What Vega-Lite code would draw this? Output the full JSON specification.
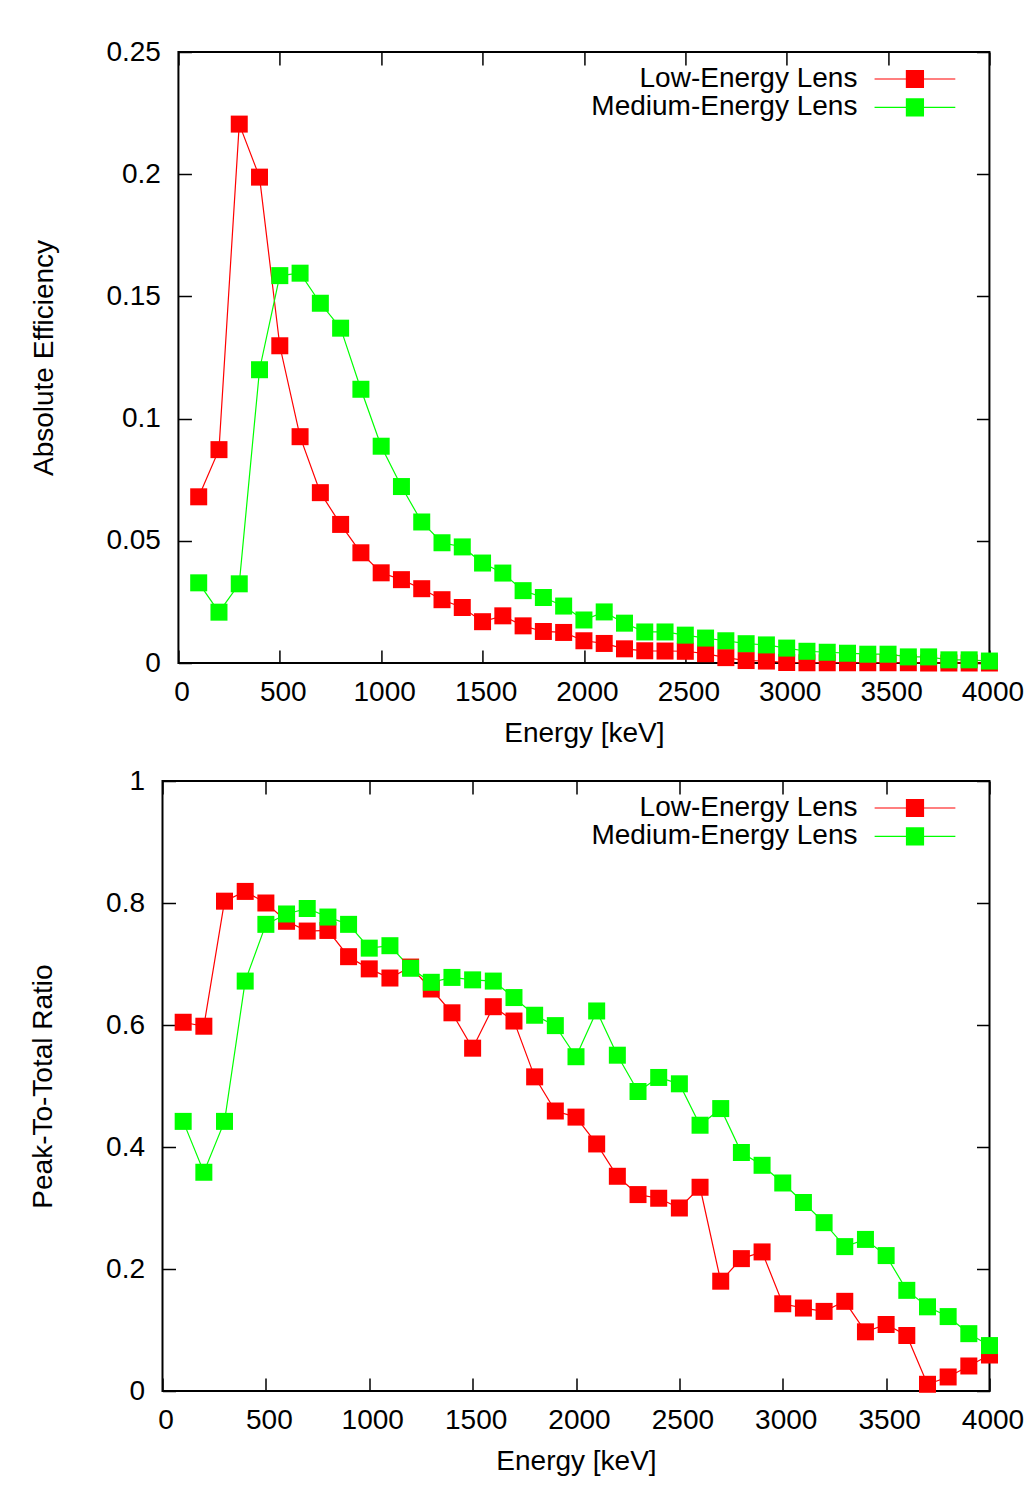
{
  "$schema": "https://vega.github.io/schema/vega-lite/v6.json",
  "background": "white",
  "padding": {"left": 28.5, "top": 37, "right": 0, "bottom": 0},
  "autosize": {"type": "pad"},
  "datasets": {
    "lenses": [
      {"lens": "Low-Energy Lens", "energy": 100, "eff": 0.068, "ptt": 0.6045},
      {"lens": "Low-Energy Lens", "energy": 200, "eff": 0.0873, "ptt": 0.598},
      {"lens": "Low-Energy Lens", "energy": 300, "eff": 0.2205, "ptt": 0.803},
      {"lens": "Low-Energy Lens", "energy": 400, "eff": 0.1988, "ptt": 0.819},
      {"lens": "Low-Energy Lens", "energy": 500, "eff": 0.1298, "ptt": 0.8},
      {"lens": "Low-Energy Lens", "energy": 600, "eff": 0.0926, "ptt": 0.77},
      {"lens": "Low-Energy Lens", "energy": 700, "eff": 0.0697, "ptt": 0.754},
      {"lens": "Low-Energy Lens", "energy": 800, "eff": 0.0567, "ptt": 0.755},
      {"lens": "Low-Energy Lens", "energy": 900, "eff": 0.0451, "ptt": 0.712},
      {"lens": "Low-Energy Lens", "energy": 1000, "eff": 0.0369, "ptt": 0.692},
      {"lens": "Low-Energy Lens", "energy": 1100, "eff": 0.0341, "ptt": 0.677},
      {"lens": "Low-Energy Lens", "energy": 1200, "eff": 0.0304, "ptt": 0.695},
      {"lens": "Low-Energy Lens", "energy": 1300, "eff": 0.0259, "ptt": 0.659},
      {"lens": "Low-Energy Lens", "energy": 1400, "eff": 0.0227, "ptt": 0.62},
      {"lens": "Low-Energy Lens", "energy": 1500, "eff": 0.0169, "ptt": 0.562},
      {"lens": "Low-Energy Lens", "energy": 1600, "eff": 0.0193, "ptt": 0.63},
      {"lens": "Low-Energy Lens", "energy": 1700, "eff": 0.0152, "ptt": 0.6065},
      {"lens": "Low-Energy Lens", "energy": 1800, "eff": 0.0129, "ptt": 0.515},
      {"lens": "Low-Energy Lens", "energy": 1900, "eff": 0.0125, "ptt": 0.459},
      {"lens": "Low-Energy Lens", "energy": 2000, "eff": 0.0091, "ptt": 0.449},
      {"lens": "Low-Energy Lens", "energy": 2100, "eff": 0.008, "ptt": 0.405},
      {"lens": "Low-Energy Lens", "energy": 2200, "eff": 0.0058, "ptt": 0.352},
      {"lens": "Low-Energy Lens", "energy": 2300, "eff": 0.005, "ptt": 0.322},
      {"lens": "Low-Energy Lens", "energy": 2400, "eff": 0.0049, "ptt": 0.316},
      {"lens": "Low-Energy Lens", "energy": 2500, "eff": 0.0048, "ptt": 0.3},
      {"lens": "Low-Energy Lens", "energy": 2600, "eff": 0.0038, "ptt": 0.334},
      {"lens": "Low-Energy Lens", "energy": 2700, "eff": 0.0022, "ptt": 0.18},
      {"lens": "Low-Energy Lens", "energy": 2800, "eff": 0.001, "ptt": 0.217},
      {"lens": "Low-Energy Lens", "energy": 2900, "eff": 0.0008, "ptt": 0.228},
      {"lens": "Low-Energy Lens", "energy": 3000, "eff": 0.0002, "ptt": 0.143},
      {"lens": "Low-Energy Lens", "energy": 3100, "eff": 0.0001, "ptt": 0.136},
      {"lens": "Low-Energy Lens", "energy": 3200, "eff": 0.0001, "ptt": 0.1305},
      {"lens": "Low-Energy Lens", "energy": 3300, "eff": 0.0001, "ptt": 0.147},
      {"lens": "Low-Energy Lens", "energy": 3400, "eff": 0.0001, "ptt": 0.097},
      {"lens": "Low-Energy Lens", "energy": 3500, "eff": 0.0001, "ptt": 0.109},
      {"lens": "Low-Energy Lens", "energy": 3600, "eff": 0.0001, "ptt": 0.091},
      {"lens": "Low-Energy Lens", "energy": 3700, "eff": 0.0, "ptt": 0.011},
      {"lens": "Low-Energy Lens", "energy": 3800, "eff": 0.0, "ptt": 0.023},
      {"lens": "Low-Energy Lens", "energy": 3900, "eff": 0.0, "ptt": 0.041},
      {"lens": "Low-Energy Lens", "energy": 4000, "eff": 0.0, "ptt": 0.059},
      {"lens": "Medium-Energy Lens", "energy": 100, "eff": 0.0328, "ptt": 0.442},
      {"lens": "Medium-Energy Lens", "energy": 200, "eff": 0.0208, "ptt": 0.3586},
      {"lens": "Medium-Energy Lens", "energy": 300, "eff": 0.0324, "ptt": 0.442},
      {"lens": "Medium-Energy Lens", "energy": 400, "eff": 0.12, "ptt": 0.672},
      {"lens": "Medium-Energy Lens", "energy": 500, "eff": 0.1585, "ptt": 0.765},
      {"lens": "Medium-Energy Lens", "energy": 600, "eff": 0.1595, "ptt": 0.782},
      {"lens": "Medium-Energy Lens", "energy": 700, "eff": 0.1472, "ptt": 0.791},
      {"lens": "Medium-Energy Lens", "energy": 800, "eff": 0.137, "ptt": 0.777},
      {"lens": "Medium-Energy Lens", "energy": 900, "eff": 0.112, "ptt": 0.765},
      {"lens": "Medium-Energy Lens", "energy": 1000, "eff": 0.0887, "ptt": 0.726},
      {"lens": "Medium-Energy Lens", "energy": 1100, "eff": 0.0722, "ptt": 0.73},
      {"lens": "Medium-Energy Lens", "energy": 1200, "eff": 0.0577, "ptt": 0.693},
      {"lens": "Medium-Energy Lens", "energy": 1300, "eff": 0.0492, "ptt": 0.67},
      {"lens": "Medium-Energy Lens", "energy": 1400, "eff": 0.0475, "ptt": 0.678},
      {"lens": "Medium-Energy Lens", "energy": 1500, "eff": 0.0409, "ptt": 0.674},
      {"lens": "Medium-Energy Lens", "energy": 1600, "eff": 0.0368, "ptt": 0.672},
      {"lens": "Medium-Energy Lens", "energy": 1700, "eff": 0.0296, "ptt": 0.645},
      {"lens": "Medium-Energy Lens", "energy": 1800, "eff": 0.0268, "ptt": 0.616},
      {"lens": "Medium-Energy Lens", "energy": 1900, "eff": 0.0233, "ptt": 0.599},
      {"lens": "Medium-Energy Lens", "energy": 2000, "eff": 0.0176, "ptt": 0.548},
      {"lens": "Medium-Energy Lens", "energy": 2100, "eff": 0.0209, "ptt": 0.623},
      {"lens": "Medium-Energy Lens", "energy": 2200, "eff": 0.0163, "ptt": 0.5505},
      {"lens": "Medium-Energy Lens", "energy": 2300, "eff": 0.0127, "ptt": 0.491},
      {"lens": "Medium-Energy Lens", "energy": 2400, "eff": 0.0127, "ptt": 0.514},
      {"lens": "Medium-Energy Lens", "energy": 2500, "eff": 0.0114, "ptt": 0.5036},
      {"lens": "Medium-Energy Lens", "energy": 2600, "eff": 0.0102, "ptt": 0.4357},
      {"lens": "Medium-Energy Lens", "energy": 2700, "eff": 0.0091, "ptt": 0.463},
      {"lens": "Medium-Energy Lens", "energy": 2800, "eff": 0.0079, "ptt": 0.391},
      {"lens": "Medium-Energy Lens", "energy": 2900, "eff": 0.0074, "ptt": 0.37},
      {"lens": "Medium-Energy Lens", "energy": 3000, "eff": 0.0061, "ptt": 0.341},
      {"lens": "Medium-Energy Lens", "energy": 3100, "eff": 0.0048, "ptt": 0.309},
      {"lens": "Medium-Energy Lens", "energy": 3200, "eff": 0.0044, "ptt": 0.276},
      {"lens": "Medium-Energy Lens", "energy": 3300, "eff": 0.004, "ptt": 0.2367},
      {"lens": "Medium-Energy Lens", "energy": 3400, "eff": 0.0036, "ptt": 0.2485},
      {"lens": "Medium-Energy Lens", "energy": 3500, "eff": 0.0036, "ptt": 0.222},
      {"lens": "Medium-Energy Lens", "energy": 3600, "eff": 0.0025, "ptt": 0.165},
      {"lens": "Medium-Energy Lens", "energy": 3700, "eff": 0.0025, "ptt": 0.138},
      {"lens": "Medium-Energy Lens", "energy": 3800, "eff": 0.0013, "ptt": 0.122},
      {"lens": "Medium-Energy Lens", "energy": 3900, "eff": 0.0013, "ptt": 0.094},
      {"lens": "Medium-Energy Lens", "energy": 4000, "eff": 0.0008, "ptt": 0.0745}
    ]
  },
  "data": {"name": "lenses"},
  "columns": 1,
  "center": true,
  "spacing": 18,
  "resolve": {"scale": {"color": "independent"}, "legend": {"color": "independent"}},
  "concat": [
    {
      "width": 811,
      "height": 611,
      "layer": [
        {
          "mark": {"type": "line", "strokeWidth": 1.2, "point": {"shape": "square", "size": 289, "filled": true, "opacity": 1}},
          "encoding": {
            "x": {"field": "energy", "type": "quantitative", "scale": {"domain": [0, 4000], "nice": false},
                  "axis": {"orient": "bottom", "title": "Energy [keV]", "values": [0, 500, 1000, 1500, 2000, 2500, 3000, 3500, 4000], "format": "d", "labelPadding": 28, "labelOffset": 3, "titlePadding": 13}},
            "y": {"field": "eff", "type": "quantitative", "scale": {"domain": [0, 0.25], "nice": false, "zero": false},
                  "axis": {"orient": "left", "title": "Absolute Efficiency", "values": [0, 0.05, 0.1, 0.15, 0.2, 0.25], "format": "~g", "labelPadding": 31, "titlePadding": 47.5}},
            "color": {"field": "lens", "type": "nominal",
                      "scale": {"domain": ["Low-Energy Lens", "Medium-Energy Lens"], "range": ["#ff0000", "#00ff00"]},
                      "legend": {"legendX": 722.5, "legendY": 13}}
          }
        },
        {
          "mark": {"type": "point", "opacity": 0},
          "encoding": {
            "x": {"field": "energy", "type": "quantitative", "axis": {"orient": "top", "title": null, "labels": false, "values": [0, 500, 1000, 1500, 2000, 2500, 3000, 3500, 4000]}},
            "y": {"field": "eff", "type": "quantitative", "axis": {"orient": "right", "title": null, "labels": false, "values": [0, 0.05, 0.1, 0.15, 0.2, 0.25]}}
          }
        }
      ],
      "resolve": {"axis": {"x": "independent", "y": "independent"}}
    },
    {
      "width": 827,
      "height": 610,
      "layer": [
        {
          "mark": {"type": "line", "strokeWidth": 1.2, "point": {"shape": "square", "size": 289, "filled": true, "opacity": 1}},
          "encoding": {
            "x": {"field": "energy", "type": "quantitative", "scale": {"domain": [0, 4000], "nice": false},
                  "axis": {"orient": "bottom", "title": "Energy [keV]", "values": [0, 500, 1000, 1500, 2000, 2500, 3000, 3500, 4000], "format": "d", "labelPadding": 28, "labelOffset": 3, "titlePadding": 13}},
            "y": {"field": "ptt", "type": "quantitative", "scale": {"domain": [0, 1], "nice": false},
                  "axis": {"orient": "left", "title": "Peak-To-Total Ratio", "values": [0, 0.2, 0.4, 0.6, 0.8, 1], "format": "~g", "labelPadding": 31, "titlePadding": 48}},
            "color": {"field": "lens", "type": "nominal",
                      "scale": {"domain": ["Low-Energy Lens", "Medium-Energy Lens"], "range": ["#ff0000", "#00ff00"]},
                      "legend": {"legendX": 738.5, "legendY": 13}}
          }
        },
        {
          "mark": {"type": "point", "opacity": 0},
          "encoding": {
            "x": {"field": "energy", "type": "quantitative", "axis": {"orient": "top", "title": null, "labels": false, "values": [0, 500, 1000, 1500, 2000, 2500, 3000, 3500, 4000]}},
            "y": {"field": "ptt", "type": "quantitative", "axis": {"orient": "right", "title": null, "labels": true, "labelExpr": "''", "labelPadding": 63, "values": [0, 0.2, 0.4, 0.6, 0.8, 1]}}
          }
        }
      ],
      "resolve": {"axis": {"x": "independent", "y": "independent"}}
    }
  ],
  "config": {
    "font": "Liberation Sans",
    "view": {"stroke": "#000000", "strokeWidth": 2},
    "axis": {
      "domain": false, "grid": false,
      "tickColor": "#000000", "tickSize": -13, "tickWidth": 1.5,
      "labelFont": "Liberation Sans", "labelFontSize": 28, "labelColor": "#000000",
      "labelFlush": false, "labelOverlap": false,
      "titleFont": "Liberation Sans", "titleFontSize": 28, "titleFontWeight": "normal", "titleColor": "#000000"
    },
    "legend": {
      "orient": "none", "title": null, "padding": 0,
      "symbolType": "M-4.75,0H4.75M-1,-1H1V1H-1Z", "symbolSize": 289, "symbolStrokeWidth": 1.2,
      "labelAlign": "right", "labelOffset": -71.5, "labelLimit": 0,
      "labelFont": "Liberation Sans", "labelFontSize": 28, "labelColor": "#000000",
      "rowPadding": 0.4
    }
  }
}
